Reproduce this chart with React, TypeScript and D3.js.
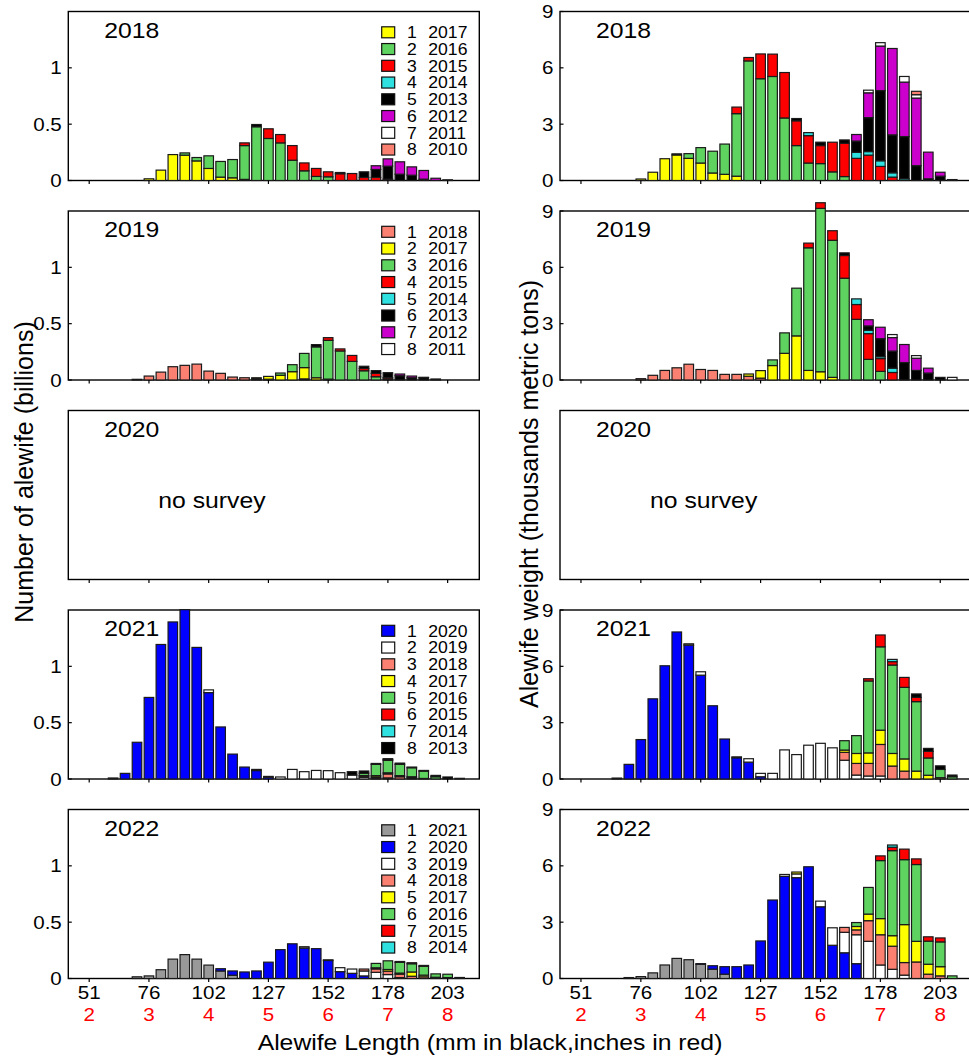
import * as d3 from "d3";

// bin centres are in inches (0.2 in bins); each row = [length, age1, age2, ... age8]
const cohorts2018 = [2017, 2016, 2015, 2014, 2013, 2012, 2011, 2010];
const cohorts2019 = [2018, 2017, 2016, 2015, 2014, 2013, 2012, 2011];
const cohorts2021 = [2020, 2019, 2018, 2017, 2016, 2015, 2014, 2013];
const cohorts2022 = [2021, 2020, 2019, 2018, 2017, 2016, 2015, 2014];

const count2018 = [
  [3.0, 0.015], [3.2, 0.092], [3.4, 0.23], [3.6, 0.225, 0.02], [3.8, 0.174, 0.03],
  [4.0, 0.107, 0.112], [4.2, 0.03, 0.139], [4.4, 0.024, 0.162], [4.6, 0.01, 0.3, 0.024],
  [4.8, 0, 0.477, 0, 0, 0.02], [5.0, 0, 0.373, 0.086], [5.2, 0, 0.334, 0.074],
  [5.4, 0, 0.18, 0.13], [5.6, 0, 0.086, 0.07], [5.8, 0, 0.036, 0.071], [6.0, 0, 0.033, 0.044],
  [6.2, 0, 0, 0.06, 0, 0.011], [6.4, 0, 0, 0.062], [6.6, 0, 0, 0.027, 0, 0.05],
  [6.8, 0, 0, 0.027, 0, 0.071, 0.033], [7.0, 0, 0, 0.012, 0, 0.115, 0.065],
  [7.2, 0, 0, 0, 0, 0.056, 0.11], [7.4, 0, 0, 0, 0, 0.047, 0.074], [7.6, 0, 0, 0, 0, 0.012, 0.077],
  [7.8, 0, 0, 0, 0, 0, 0.02], [8.0, 0, 0, 0, 0, 0.006],
];
const weight2018 = [
  [3.0, 0.08], [3.2, 0.44], [3.4, 1.16], [3.6, 1.36, 0.06], [3.8, 1.18, 0.25], [4.0, 0.93, 0.82],
  [4.2, 0.4, 1.16], [4.4, 0.33, 1.61], [4.6, 0.23, 3.33, 0.35], [4.8, 0, 6.37, 0.18],
  [5.0, 0, 5.42, 1.32], [5.2, 0, 5.54, 1.19], [5.4, 0, 3.33, 2.42], [5.6, 0, 1.86, 1.32, 0, 0.12],
  [5.8, 0, 0.93, 1.46, 0.16], [6.0, 0, 0.9, 0.96, 0, 0.18], [6.2, 0, 0.46, 1.58],
  [6.4, 0, 0.21, 1.77, 0, 0.18], [6.6, 0, 0, 1.18, 0.32, 0.6, 0.35],
  [6.8, 0, 0, 1.35, 0.19, 1.81, 1.32, 0.14], [7.0, 0, 0, 0.75, 0.3, 3.74, 2.37, 0.18],
  [7.2, 0, 0, 0.18, 0.23, 2.02, 4.6], [7.4, 0, 0, 0, 0.09, 2.25, 2.9, 0.3],
  [7.6, 0, 0, 0, 0, 0.79, 3.6, 0.18, 0.18], [7.8, 0, 0, 0, 0, 0.09, 1.42],
  [8.0, 0, 0, 0, 0, 0.23, 0.21], [8.2, 0, 0, 0, 0, 0.05],
];

const count2019 = [
  [2.8, 0.006], [3.0, 0.035], [3.2, 0.07], [3.4, 0.118], [3.6, 0.13], [3.8, 0.141], [4.0, 0.079],
  [4.2, 0.059], [4.4, 0.026], [4.6, 0.02], [4.8, 0.01, 0.01], [5.0, 0.007, 0.025],
  [5.2, 0, 0.042, 0.02], [5.4, 0, 0.074, 0.062], [5.6, 0.01, 0.1, 0.126],
  [5.8, 0, 0.02, 0.274, 0, 0, 0.02], [6.0, 0, 0.008, 0.344, 0.024], [6.2, 0, 0, 0.258, 0.018],
  [6.4, 0, 0, 0.165, 0.053], [6.6, 0, 0, 0.082, 0.02, 0, 0.02], [6.8, 0, 0, 0.029, 0.03, 0, 0.024],
  [7.0, 0, 0, 0.009, 0.012, 0, 0.044], [7.2, 0, 0, 0, 0, 0, 0.038, 0.015],
  [7.4, 0, 0, 0, 0, 0, 0.02, 0.015], [7.6, 0, 0, 0, 0, 0, 0.02, 0.004], [7.8, 0, 0, 0, 0, 0, 0.009],
];
const weight2019 = [
  [3.0, 0.07], [3.2, 0.25], [3.4, 0.51], [3.6, 0.65], [3.8, 0.84], [4.0, 0.56], [4.2, 0.51],
  [4.4, 0.3], [4.6, 0.3], [4.8, 0.2, 0.12], [5.0, 0.1, 0.4], [5.2, 0, 0.77, 0.3],
  [5.4, 0, 1.42, 1.09], [5.6, 0, 2.35, 2.54], [5.8, 0, 0.51, 6.53, 0.25], [6.0, 0, 0.44, 8.7, 0.3],
  [6.2, 0, 0.14, 7.3, 0.51], [6.4, 0, 0, 5.42, 1.21, 0, 0.14], [6.6, 0, 0, 3.23, 0.79, 0.3],
  [6.8, 0, 0, 1.1, 1.37, 0.18, 0.23, 0.33], [7.0, 0, 0, 0.46, 0.68, 0.1, 0.96, 0.61],
  [7.2, 0, 0, 0, 0.4, 0.23, 0.91, 0.72, 0.16], [7.4, 0, 0, 0, 0, 0, 0.93, 0.96],
  [7.6, 0, 0, 0, 0, 0, 0.51, 0.65, 0.14], [7.8, 0, 0, 0, 0, 0, 0.37, 0.26],
  [8.0, 0, 0, 0, 0, 0, 0.14], [8.2, 0, 0, 0, 0, 0, 0, 0, 0.14],
];

const count2021 = [
  [2.4, 0.009], [2.6, 0.05], [2.8, 0.326], [3.0, 0.724], [3.2, 1.194], [3.4, 1.394], [3.6, 1.503],
  [3.8, 1.168], [4.0, 0.767, 0.024], [4.2, 0.462], [4.4, 0.221], [4.6, 0.106], [4.8, 0.075, 0.01],
  [5.0, 0.015, 0.008], [5.2, 0, 0.018], [5.4, 0, 0.085], [5.6, 0, 0.065], [5.8, 0, 0.076],
  [6.0, 0, 0.074], [6.2, 0, 0.056], [6.4, 0, 0.035, 0, 0, 0, 0, 0, 0.03],
  [6.6, 0, 0.015, 0.01, 0.006, 0.02, 0, 0, 0.02], [6.8, 0, 0.008, 0.01, 0.012, 0.1, 0, 0, 0.008],
  [7.0, 0, 0.01, 0.035, 0.01, 0.11, 0.01, 0, 0.005], [7.2, 0, 0, 0.02, 0.01, 0.1, 0, 0, 0.011],
  [7.4, 0, 0, 0.01, 0.01, 0.08, 0, 0, 0.006], [7.6, 0, 0, 0, 0.005, 0.065, 0, 0, 0.006],
  [7.8, 0, 0, 0, 0, 0.02, 0, 0, 0.012], [8.0, 0, 0, 0, 0, 0, 0, 0, 0.018], [8.2, 0, 0.006],
];
const weight2021 = [
  [2.6, 0.05], [2.8, 0.78], [3.0, 2.1], [3.2, 4.27], [3.4, 6.03], [3.6, 7.83], [3.8, 7.13, 0.07],
  [4.0, 5.53, 0.18], [4.2, 3.9], [4.4, 2.13], [4.6, 1.13, 0.05], [4.8, 0.9, 0.18], [5.0, 0.12, 0.18],
  [5.2, 0, 0.3], [5.4, 0, 1.55], [5.6, 0, 1.3], [5.8, 0, 1.8], [6.0, 0, 1.9], [6.2, 0, 1.66],
  [6.4, 0, 1.0, 0.42, 0.12, 0.5], [6.6, 0, 0.21, 0.62, 0.53, 0.95],
  [6.8, 0, 0.16, 0.67, 0.56, 3.83, 0.12], [7.0, 0, 0.16, 1.68, 0.76, 4.44, 0.63],
  [7.2, 0, 0, 0.69, 0.67, 4.71, 0.18, 0.12], [7.4, 0, 0, 0.42, 0.65, 3.81, 0.53],
  [7.6, 0, 0, 0, 0.42, 3.7, 0.23, 0, 0.18], [7.8, 0, 0, 0, 0.2, 0.92, 0.35, 0, 0.16],
  [8.0, 0, 0, 0, 0.07, 0.44, 0, 0, 0.19], [8.2, 0, 0, 0, 0, 0.12, 0, 0, 0.09],
];

const count2022 = [
  [2.8, 0.015], [3.0, 0.023], [3.2, 0.078], [3.4, 0.172], [3.6, 0.212], [3.8, 0.172], [4.0, 0.119],
  [4.2, 0.067, 0.02], [4.4, 0.029, 0.038], [4.6, 0, 0.058], [4.8, 0, 0.067], [5.0, 0, 0.145],
  [5.2, 0, 0.256], [5.4, 0, 0.308], [5.6, 0, 0.27, 0.012], [5.8, 0, 0.265], [6.0, 0, 0.16, 0.006],
  [6.2, 0, 0.061, 0.035], [6.4, 0, 0.046, 0.038], [6.6, 0, 0.023, 0.044, 0.017],
  [6.8, 0, 0, 0.055, 0.03, 0.01, 0.039], [7.0, 0, 0, 0.035, 0.03, 0.015, 0.077],
  [7.2, 0, 0, 0.008, 0.03, 0.01, 0.095, 0.008], [7.4, 0, 0, 0, 0.02, 0.038, 0.073, 0.009],
  [7.6, 0, 0, 0, 0.015, 0.015, 0.078, 0.008], [7.8, 0, 0, 0, 0.006, 0.005, 0.03],
  [8.0, 0, 0, 0, 0, 0.008, 0.03], [8.2, 0, 0, 0.009],
];
const weight2022 = [
  [2.8, 0.05], [3.0, 0.1], [3.2, 0.3], [3.4, 0.72], [3.6, 1.07], [3.8, 1.0], [4.0, 0.76, 0.03],
  [4.2, 0.5, 0.18], [4.4, 0.23, 0.4], [4.6, 0, 0.63], [4.8, 0, 0.72], [5.0, 0, 2.0], [5.2, 0, 4.18],
  [5.4, 0, 5.44, 0.1], [5.6, 0, 5.37, 0.2, 0, 0.1], [5.8, 0, 5.95], [6.0, 0, 3.82, 0.3],
  [6.2, 0, 1.77, 0.93], [6.4, 0, 1.37, 1.09, 0.26], [6.6, 0, 0.79, 1.54, 0.26, 0.18, 0.21],
  [6.8, 0, 0, 1.98, 1.1, 0.35, 1.42], [7.0, 0, 0, 0.72, 1.61, 0.86, 3.09, 0.25],
  [7.2, 0, 0, 0.49, 1.23, 0.56, 4.53, 0.18, 0.12], [7.4, 0, 0, 0.18, 0.67, 2.02, 3.46, 0.56],
  [7.6, 0, 0, 0, 0.88, 1.1, 4.09, 0.3], [7.8, 0, 0, 0, 0.23, 0.53, 1.23, 0.23],
  [8.0, 0, 0, 0, 0.14, 0.49, 1.32, 0.21], [8.2, 0, 0, 0, 0, 0, 0.14],
];

const surveyYears = [2018, 2019, 2020, 2021, 2022];
const mmTicks = [51, 76, 102, 127, 152, 178, 203];
const inchTicks = [2, 3, 4, 5, 6, 7, 8];
const countTicks = [0, 0.5, 1];
const weightTicks = [0, 3, 6, 9];

const cohortColors: Record<number, string> = {
  2021: "#999999", 2020: "#0000ff", 2019: "#ffffff", 2018: "#fa8072",
  2017: "#ffff00", 2016: "#5fd35f", 2015: "#ff0000", 2014: "#2ee0e0",
  2013: "#000000", 2012: "#cc00cc", 2011: "#ffffff", 2010: "#fa8072",
};

const panelData: Record<number, any> = {
  2018: { cohorts: cohorts2018, count: count2018, weight: weight2018 },
  2019: { cohorts: cohorts2019, count: count2019, weight: weight2019 },
  2020: null,
  2021: { cohorts: cohorts2021, count: count2021, weight: weight2021 },
  2022: { cohorts: cohorts2022, count: count2022, weight: weight2022 },
};

const W = 969;
const H = 1057;
const rowTops = [11.5, 211, 410.5, 610, 809.5];
const panelH = 169;
const leftCol = [68.3, 479.3];
const rightCol = [560, 972];
const FONT = '"Liberation Sans", Arial, sans-serif';
const SX = 1.1; // the original's lettering is a bit wide

function Label({ x, y, size, anchor = "start", fill = "#000", sx = SX, rotate = 0, children }: any) {
  return (
    <text
      transform={`translate(${x},${y}) scale(${sx},1)${rotate ? ` rotate(${rotate})` : ""}`}
      fontSize={size}
      textAnchor={anchor}
      fill={fill}
      fontFamily={FONT}
    >
      {children}
    </text>
  );
}

function Panel({ col, top, year, kind, bottom }: any) {
  const d = panelData[year];
  const isCount = kind === "count";
  const x = d3.scaleLinear().domain([1.65, 8.53]).range(col);
  const y = d3.scaleLinear().domain([0, isCount ? 1.5 : 9]).range([top + panelH, top]);
  const ticks = isCount ? countTicks : weightTicks;
  const half = (x(0.2) - x(0)) * 0.45 - 0.6;
  const rows: number[][] = d ? d[kind] : [];

  const rects = rows.flatMap(([len, ...vals], i) => {
    let cum = 0;
    return vals.map((v, k) => {
      const y0 = cum;
      cum += v;
      if (!v) return null;
      return (
        <rect
          key={`${i}-${k}`}
          x={x(len) - half}
          width={half * 2}
          y={y(y0 + v)}
          height={y(y0) - y(y0 + v)}
          fill={cohortColors[d.cohorts[k]]}
          stroke="#1a1a1a"
          strokeWidth={1.2}
        />
      );
    });
  });

  return (
    <g>
      <rect x={col[0]} y={top} width={col[1] - col[0]} height={panelH} fill="none" stroke="#000" strokeWidth={1.4} />
      {rects}
      {inchTicks.map((t) => (
        <line key={t} x1={x(t)} x2={x(t)} y1={top + panelH} y2={top + panelH + 3.5} stroke="#000" strokeWidth={1.2} />
      ))}
      {d &&
        ticks.map((t) => (
          <g key={t}>
            <line x1={col[0]} x2={col[0] + 3.5} y1={y(t)} y2={y(t)} stroke="#000" strokeWidth={1.2} />
            <Label x={col[0] - 6.5} y={y(t) + 6.6} size={18.7} anchor="end">
              {t}
            </Label>
          </g>
        ))}
      <Label x={col[0] + 36} y={top + 26.2} size={22.5}>
        {year}
      </Label>
      {!d && (
        <Label x={col[0] + 90} y={top + 97} size={22.5}>
          no survey
        </Label>
      )}
      {d && isCount &&
        d.cohorts.map((c: number, k: number) => {
          const cy = top + 20.8 + k * 16.75;
          return (
            <g key={c}>
              <rect x={col[1] - 97.6} y={cy - 5.5} width={13} height={11} fill={cohortColors[c]} stroke="#111" strokeWidth={1.2} />
              <Label x={col[1] - 72.3} y={cy + 5.8} size={16}>
                {k + 1}
              </Label>
              <Label x={col[1] - 51} y={cy + 5.8} size={16}>
                {c}
              </Label>
            </g>
          );
        })}
      {bottom &&
        inchTicks.map((t, i) => (
          <g key={t}>
            <Label x={x(t)} y={999} size={18.7} anchor="middle">
              {mmTicks[i]}
            </Label>
            <Label x={x(t)} y={1020.5} size={18.7} anchor="middle" fill="#ff0000">
              {t}
            </Label>
          </g>
        ))}
    </g>
  );
}

export default function App() {
  return (
    <svg width={W} height={H} style={{ position: "absolute", left: 0, top: 0, background: "#fff" }}>
      {surveyYears.map((yr, r) => (
        <g key={yr}>
          <Panel col={leftCol} top={rowTops[r]} year={yr} kind="count" bottom={r === surveyYears.length - 1} />
          <Panel col={rightCol} top={rowTops[r]} year={yr} kind="weight" bottom={r === surveyYears.length - 1} />
        </g>
      ))}
      <Label x={33} y={472} size={25} sx={1} anchor="middle" rotate={-90}>
        Number of alewife (billions)
      </Label>
      <Label x={538} y={494} size={25} sx={1} anchor="middle" rotate={-90}>
        Alewife weight (thousands metric tons)
      </Label>
      <Label x={490} y={1050} size={22.5} anchor="middle">
        Alewife Length (mm in black,inches in red)
      </Label>
    </svg>
  );
}
